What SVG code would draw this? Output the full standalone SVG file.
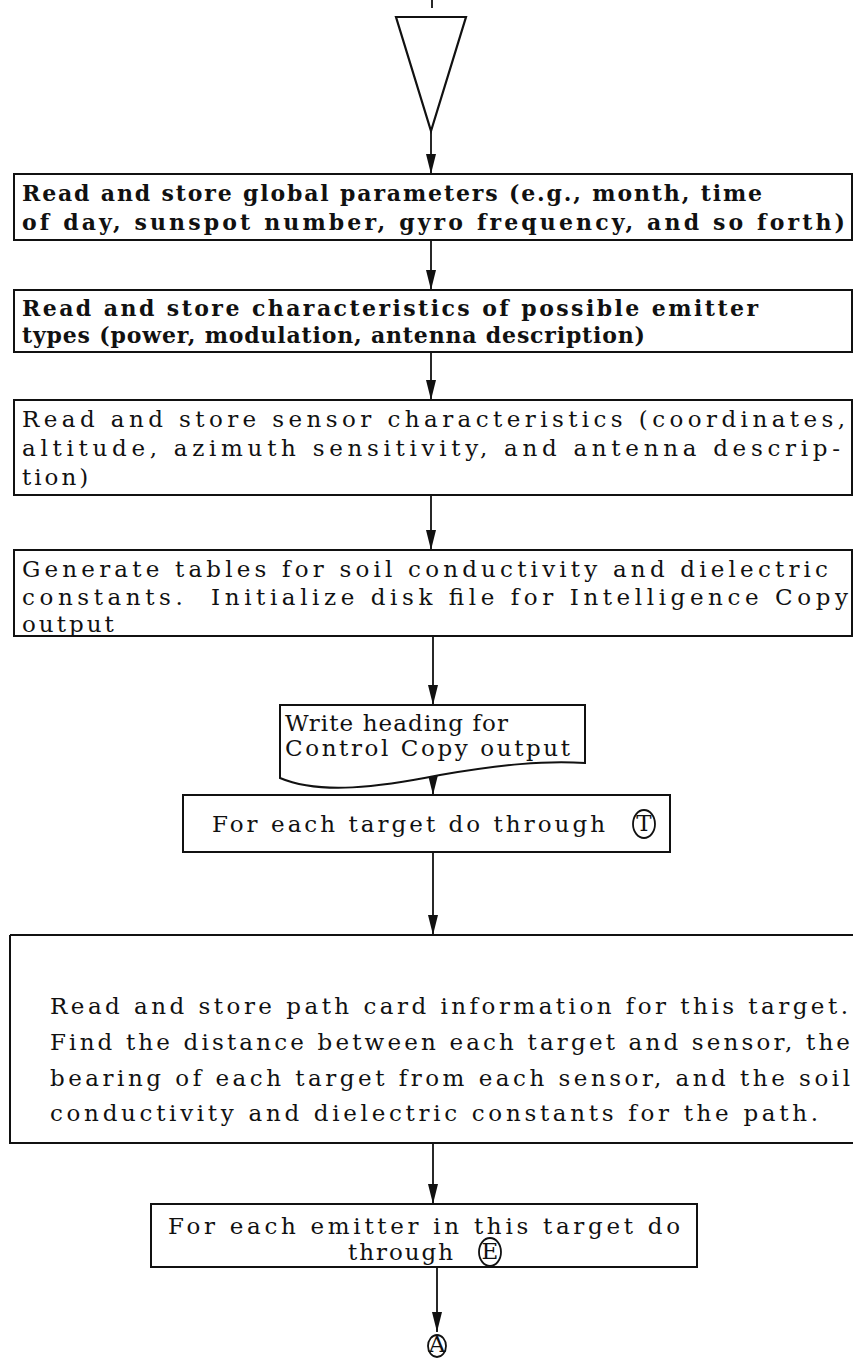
<svg xmlns="http://www.w3.org/2000/svg" width="853" height="1363" viewBox="0 0 853 1363">
  <style>
    .box { fill: #fff; stroke: #111; stroke-width: 2; }
    .thin { fill: none; stroke: #111; stroke-width: 1.8; }
    .t { font-family: "DejaVu Serif", "Liberation Serif", serif; font-size: 23px; fill: #111; white-space: pre; }
    .b { font-weight: bold; font-size: 22px; }
    .sp { letter-spacing: 3px; }
    .flow { fill: none; stroke: #111; stroke-width: 1.8; marker-end: url(#arrow); }
  </style>
  <defs>
    <marker id="arrow" viewBox="0 0 20 10" refX="20" refY="5" markerWidth="20" markerHeight="10" markerUnits="userSpaceOnUse" orient="auto">
      <path d="M0,0 L20,5 L0,10 Z" fill="#111"/>
    </marker>
  </defs>
  <rect width="853" height="1363" fill="#fff"/>

  <!-- entry mark and start triangle -->
  <g id="start">
    <line x1="432" y1="0" x2="432" y2="8" class="thin"/>
    <polygon points="396,17 466,17 431,131" fill="none" stroke="#111" stroke-width="2.2"/>
  </g>

  <g id="connectors">
    <path class="flow" d="M431,131 V174"/>
    <path class="flow" d="M431,240 V290"/>
    <path class="flow" d="M431,352 V400"/>
    <path class="flow" d="M431,495 V550"/>
    <path class="flow" d="M433,636 V705"/>
    <path class="flow" d="M433,772 V795"/>
    <path class="flow" d="M433,852 V935"/>
    <path class="flow" d="M433,1143 V1204"/>
    <path class="flow" d="M437,1267 V1332"/>
  </g>

  <g id="global-params">
    <rect class="box" x="14" y="174" width="838" height="66"/>
    <text class="t b" x="22" y="201" textLength="740" lengthAdjust="spacing">Read and store global parameters (e.g., month, time</text>
    <text class="t b" x="22" y="230" textLength="823" lengthAdjust="spacing">of day, sunspot number, gyro frequency, and so forth)</text>
  </g>

  <g id="emitter-types">
    <rect class="box" x="14" y="290" width="838" height="62"/>
    <text class="t b" x="22" y="316" textLength="736" lengthAdjust="spacing">Read and store characteristics of possible emitter</text>
    <text class="t b" x="22" y="343" textLength="623" lengthAdjust="spacing">types (power, modulation, antenna description)</text>
  </g>

  <g id="sensor-chars">
    <rect class="box" x="14" y="400" width="838" height="95"/>
    <text class="t" x="22" y="427" textLength="823" lengthAdjust="spacing">Read and store sensor characteristics (coordinates,</text>
    <text class="t" x="22" y="456" textLength="818" lengthAdjust="spacing">altitude, azimuth sensitivity, and antenna descrip-</text>
    <text class="t sp" x="22" y="485">tion)</text>
  </g>

  <g id="soil-tables">
    <rect class="box" x="14" y="550" width="838" height="86"/>
    <text class="t" x="22" y="577" textLength="806" lengthAdjust="spacing">Generate tables for soil conductivity and dielectric</text>
    <text class="t" x="22" y="605" textLength="826" lengthAdjust="spacing" xml:space="preserve">constants.  Initialize disk file for Intelligence Copy</text>
    <text class="t sp" x="22" y="632">output</text>
  </g>

  <g id="control-heading">
    <path class="box" d="M280,705 H585 V763 C545,760 500,765 440,775 C380,787 320,795 280,778 Z"/>
    <text class="t" x="285" y="731" textLength="223" lengthAdjust="spacing">Write heading for</text>
    <text class="t" x="285" y="756" textLength="285" lengthAdjust="spacing">Control Copy output</text>
  </g>

  <g id="target-loop">
    <rect class="box" x="183" y="795" width="487" height="57"/>
    <text class="t" x="212" y="832" textLength="393" lengthAdjust="spacing">For each target do through</text>
    <ellipse cx="644" cy="824" rx="11" ry="14" class="thin"/>
    <text class="t" x="644" y="831" font-size="18" text-anchor="middle">T</text>
  </g>

  <g id="path-card">
    <path class="box" d="M10,935 H853 M10,935 V1143 H853" style="fill:none"/>
    <text class="t" x="50" y="1014" textLength="798" lengthAdjust="spacing">Read and store path card information for this target.</text>
    <text class="t" x="50" y="1050" textLength="800" lengthAdjust="spacing">Find the distance between each target and sensor, the</text>
    <text class="t" x="50" y="1086" textLength="800" lengthAdjust="spacing">bearing of each target from each sensor, and the soil</text>
    <text class="t" x="50" y="1121" textLength="768" lengthAdjust="spacing">conductivity and dielectric constants for the path.</text>
  </g>

  <g id="emitter-loop">
    <rect class="box" x="151" y="1204" width="546" height="63"/>
    <text class="t" x="168" y="1234" textLength="512" lengthAdjust="spacing">For each emitter in this target do</text>
    <text class="t" x="348" y="1260" textLength="105" lengthAdjust="spacing">through</text>
    <ellipse cx="490" cy="1252" rx="11" ry="14" class="thin"/>
    <text class="t" x="490" y="1259" font-size="18" text-anchor="middle">E</text>
  </g>

  <g id="connector-A">
    <ellipse cx="437" cy="1346" rx="9" ry="11" class="thin"/>
    <text class="t" x="437" y="1352" font-size="16" text-anchor="middle">A</text>
  </g>
</svg>
